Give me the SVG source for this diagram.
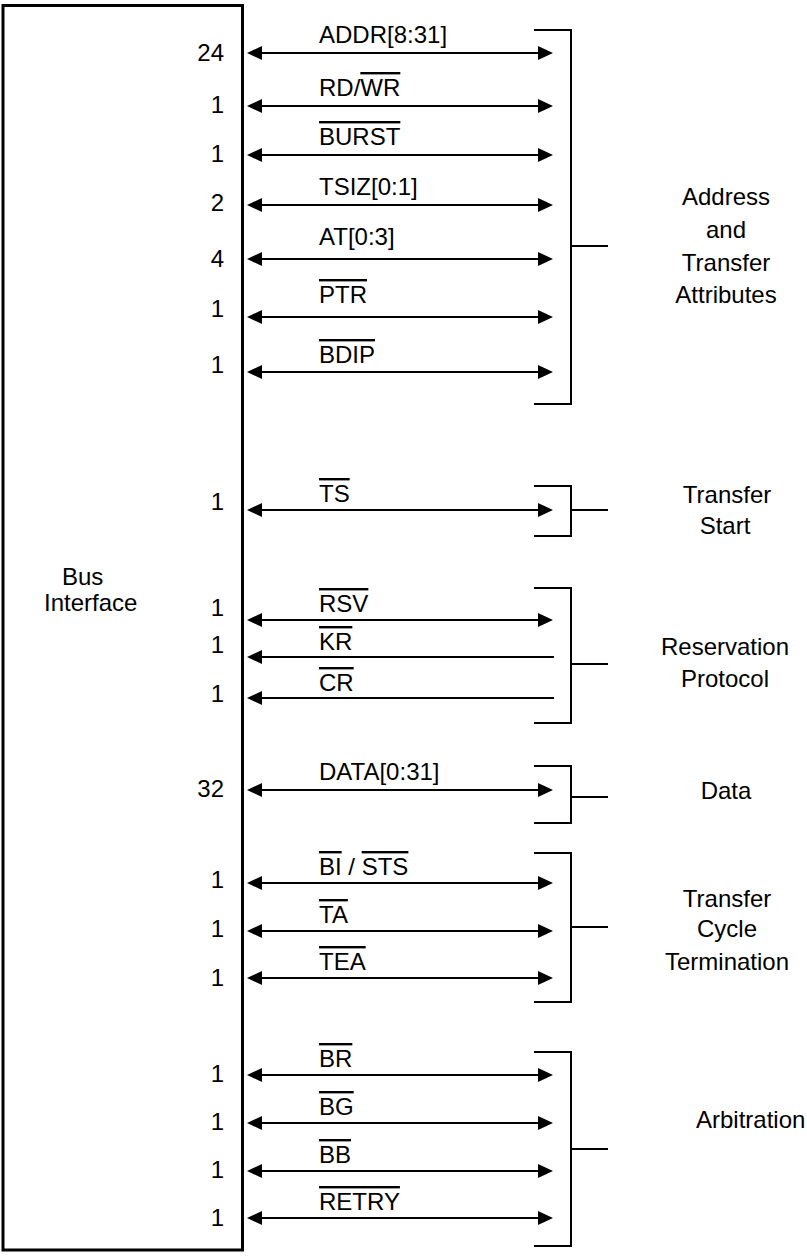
<svg xmlns="http://www.w3.org/2000/svg" width="807" height="1256" viewBox="0 0 807 1256">
<style>
text{font-family:"Liberation Sans",Arial,sans-serif;font-size:24px;fill:#000}
.num{text-anchor:end}
.grp{text-anchor:middle}
.ol{text-decoration:overline}
.sig{stroke:#000;stroke-width:2;fill:none}
.bi{marker-start:url(#ah);marker-end:url(#ah)}
.in{marker-start:url(#ah)}
.br{stroke:#000;stroke-width:2;fill:none}
</style>
<defs>
<marker id="ah" markerUnits="userSpaceOnUse" markerWidth="15" markerHeight="14" viewBox="0 0 15 14" refX="12" refY="7" orient="auto-start-reverse">
<path d="M0,0 L15,7 L0,14 Z" fill="#000"/>
</marker>
</defs>
<rect width="807" height="1256" fill="#fff"/>

<g id="bus-interface">
<rect x="3" y="5.5" width="239.5" height="1244.5" fill="none" stroke="#000" stroke-width="3"/>
<text x="62" y="585">Bus</text>
<text x="44" y="611">Interface</text>
</g>

<g id="connectors">
<line class="sig bi" x1="250" y1="53" x2="550" y2="53"/>
<line class="sig bi" x1="250" y1="106" x2="550" y2="106"/>
<line class="sig bi" x1="250" y1="155" x2="550" y2="155"/>
<line class="sig bi" x1="250" y1="205" x2="550" y2="205"/>
<line class="sig bi" x1="250" y1="259" x2="550" y2="259"/>
<line class="sig bi" x1="250" y1="317" x2="550" y2="317"/>
<line class="sig bi" x1="250" y1="372" x2="550" y2="372"/>
<line class="sig bi" x1="250" y1="510" x2="550" y2="510"/>
<line class="sig bi" x1="250" y1="620" x2="550" y2="620"/>
<line class="sig in" x1="250" y1="657" x2="554" y2="657"/>
<line class="sig in" x1="250" y1="698" x2="554" y2="698"/>
<line class="sig bi" x1="250" y1="790" x2="550" y2="790"/>
<line class="sig bi" x1="250" y1="883" x2="550" y2="883"/>
<line class="sig bi" x1="250" y1="931" x2="550" y2="931"/>
<line class="sig bi" x1="250" y1="978" x2="550" y2="978"/>
<line class="sig bi" x1="250" y1="1075" x2="550" y2="1075"/>
<line class="sig bi" x1="250" y1="1123" x2="550" y2="1123"/>
<line class="sig bi" x1="250" y1="1171" x2="550" y2="1171"/>
<line class="sig bi" x1="250" y1="1218" x2="550" y2="1218"/>

<text x="319" y="43">ADDR[8:31]</text>
<text x="319" y="96">RD/<tspan class="ol">WR</tspan></text>
<text x="319" y="145"><tspan class="ol">BURST</tspan></text>
<text x="319" y="195">TSIZ[0:1]</text>
<text x="319" y="245">AT[0:3]</text>
<text x="319" y="303"><tspan class="ol">PTR</tspan></text>
<text x="319" y="363"><tspan class="ol">BDIP</tspan></text>
<text x="319" y="502"><tspan class="ol">TS</tspan></text>
<text x="319" y="612"><tspan class="ol">RSV</tspan></text>
<text x="319" y="650"><tspan class="ol">KR</tspan></text>
<text x="319" y="691"><tspan class="ol">CR</tspan></text>
<text x="319" y="780">DATA[0:31]</text>
<text x="319" y="875"><tspan class="ol">BI</tspan> / <tspan class="ol">STS</tspan></text>
<text x="319" y="923"><tspan class="ol">TA</tspan></text>
<text x="319" y="970"><tspan class="ol">TEA</tspan></text>
<text x="319" y="1067"><tspan class="ol">BR</tspan></text>
<text x="319" y="1115"><tspan class="ol">BG</tspan></text>
<text x="319" y="1163"><tspan class="ol">BB</tspan></text>
<text x="319" y="1210"><tspan class="ol">RETRY</tspan></text>

<text class="num" x="224" y="61">24</text>
<text class="num" x="224" y="113">1</text>
<text class="num" x="224" y="162">1</text>
<text class="num" x="224" y="211">2</text>
<text class="num" x="224" y="267">4</text>
<text class="num" x="224" y="317">1</text>
<text class="num" x="224" y="373">1</text>
<text class="num" x="224" y="510">1</text>
<text class="num" x="224" y="616">1</text>
<text class="num" x="224" y="653">1</text>
<text class="num" x="224" y="702">1</text>
<text class="num" x="224" y="797">32</text>
<text class="num" x="224" y="888">1</text>
<text class="num" x="224" y="937">1</text>
<text class="num" x="224" y="986">1</text>
<text class="num" x="224" y="1082">1</text>
<text class="num" x="224" y="1130">1</text>
<text class="num" x="224" y="1178">1</text>
<text class="num" x="224" y="1226">1</text>
</g>

<g id="address-transfer-attributes">
<path class="br" d="M534,30 H571 V404 H534 M571,246 H608"/>
<text class="grp" x="726" y="205">Address</text>
<text class="grp" x="726" y="238">and</text>
<text class="grp" x="726" y="271">Transfer</text>
<text class="grp" x="726" y="303">Attributes</text>
</g>

<g id="transfer-start">
<path class="br" d="M534,486 H571 V536 H534 M571,510 H608"/>
<text class="grp" x="727" y="503">Transfer</text>
<text class="grp" x="725" y="534">Start</text>
</g>

<g id="reservation-protocol">
<path class="br" d="M534,588 H571 V723 H534 M571,664 H608"/>
<text class="grp" x="725" y="655">Reservation</text>
<text class="grp" x="725" y="687">Protocol</text>
</g>

<g id="data">
<path class="br" d="M534,766 H571 V823 H534 M571,797 H608"/>
<text class="grp" x="726" y="799">Data</text>
</g>

<g id="transfer-cycle-termination">
<path class="br" d="M534,853 H571 V1002 H534 M571,927 H608"/>
<text class="grp" x="727" y="907">Transfer</text>
<text class="grp" x="727" y="937">Cycle</text>
<text class="grp" x="727" y="970">Termination</text>
</g>

<g id="arbitration">
<path class="br" d="M534,1052 H571 V1246 H534 M571,1149 H608"/>
<text x="696" y="1128">Arbitration</text>
</g>
</svg>
